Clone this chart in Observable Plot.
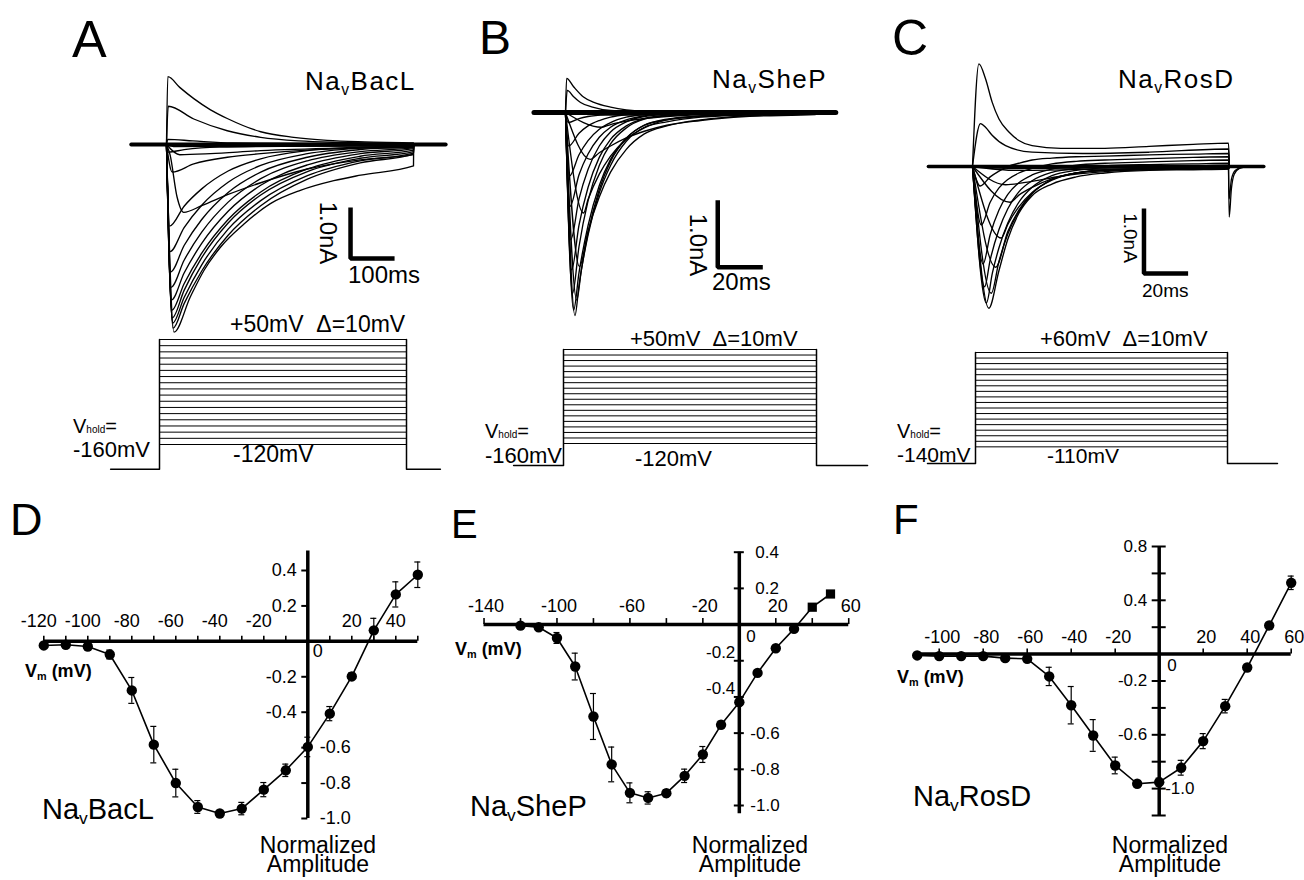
<!DOCTYPE html>
<html><head><meta charset="utf-8">
<script src="https://cdn.jsdelivr.net/npm/d3@7"></script>
<script src="https://cdn.jsdelivr.net/npm/@observablehq/plot@0.6"></script>
<style>
html,body{margin:0;padding:0;background:#fff;}
#fig{position:relative;width:1304px;height:880px;overflow:hidden;background:#fff;font-family:"Liberation Sans",Arial,Helvetica,sans-serif;color:#000;}
.lab{position:absolute;white-space:pre;line-height:1;color:#000;}
.sv{font-size:0.6em;vertical-align:-0.3em;}
</style></head><body><div id="fig"></div>
<script>
// ---------------- DATA ----------------
// I-V curves (normalized peak amplitude vs membrane potential, mV)
const vD = [-120,-110,-100,-90,-80,-70,-60,-50,-40,-30,-20,-10,0,10,20,30,40,50];
const mD = [-0.023,-0.019,-0.029,-0.074,-0.277,-0.583,-0.80,-0.935,-0.972,-0.944,-0.837,-0.728,-0.596,-0.408,-0.198,0.062,0.265,0.376];
const eD = [0.01,0.01,0.012,0.025,0.073,0.103,0.078,0.036,0.012,0.035,0.04,0.035,0.055,0.04,0.02,0.068,0.071,0.072];

const vE = [-120,-110,-100,-90,-80,-70,-60,-50,-40,-30,-20,-10,0,10,20,30,40,50];
const mE = [-0.006,-0.015,-0.074,-0.232,-0.508,-0.773,-0.93,-0.958,-0.932,-0.836,-0.718,-0.554,-0.429,-0.267,-0.131,-0.024,0.096,0.169];
const eE = [0.005,0.01,0.03,0.074,0.127,0.096,0.055,0.034,0.02,0.037,0.044,0.02,0.02,0.01,0.01,0.01,0.01,0.01];

const vF = [-110,-100,-90,-80,-70,-60,-50,-40,-30,-20,-10,0,10,20,30,40,50,60];
const mF = [-0.01,-0.015,-0.015,-0.015,-0.03,-0.035,-0.166,-0.38,-0.605,-0.828,-0.964,-0.952,-0.845,-0.647,-0.387,-0.10,0.213,0.53];
const eF = [0.01,0.01,0.01,0.01,0.01,0.012,0.068,0.139,0.118,0.062,0.015,0.03,0.055,0.056,0.05,0.015,0.015,0.05];

// axis ticks / labels
const xTicksD = [-120,-110,-100,-90,-80,-70,-60,-50,-40,-30,-20,-10,10,20,30,40,50];
const xLabD = [-120,-100,-80,-60,-40,-20,20,40];
const yTicksD = [0.4,0.2,-0.2,-0.4,-0.6,-0.8,-1.0];
const xTicksE = [-140,-120,-100,-80,-60,-40,-20,20,40,60];
const xLabE = [-140,-100,-60,-20,20,60];
const yTicksE = [0.4,0.2,-0.2,-0.4,-0.6,-0.8,-1.0];
const xTicksF = [-100,-80,-60,-40,-20,20,40,60];
const xLabF = [-100,-80,-60,-40,-20,20,40,60];
const yTicksF = [0.8,0.6,0.4,0.2,-0.2,-0.4,-0.6,-0.8,-1.0,-1.2];

// Voltage-step protocols (mV)
const levelsA = [-120,-110,-100,-90,-80,-70,-60,-50,-40,-30,-20,-10,0,10,20,30,40,50];
const levelsB = [-120,-110,-100,-90,-80,-70,-60,-50,-40,-30,-20,-10,0,10,20,30,40,50];
const levelsC = [-110,-100,-90,-80,-70,-60,-50,-40,-30,-20,-10,0,10,20,30,40,50,60];
const holdA = -160, holdB = -160, holdC = -140;
const pulseA = 561, pulseB = 111, pulseC = 116;   // ms

// Current traces: [time ms, current nA] read from the records
const tracesA = [
 [[0,0],[3,1.33],[30,1.12],[62,0.9],[100,0.68],[138,0.51],[214,0.25],[289,0.14],[365,0.08],[450,0.05],[561,0.03]],
 [[0,0],[4,0.75],[62,0.5],[138,0.27],[214,0.14],[300,0.07],[400,0.04],[561,0.02]],
 [[0,0],[3,0.1],[60,0.07],[150,0.03],[561,0.01]],
 [[0,0],[4,-0.15],[40,-0.1],[120,-0.05],[561,-0.01]],
 [[0,0],[7,-1.6],[40,-1.21],[80,-0.87],[140,-0.52],[214,-0.28],[320,-0.12],[440,-0.05],[561,-0.02]],
 [[0,0],[8,-2.1],[40,-1.63],[80,-1.19],[140,-0.74],[214,-0.41],[320,-0.18],[440,-0.07],[561,-0.03]],
 [[0,0],[9,-2.5],[40,-1.98],[80,-1.47],[140,-0.94],[214,-0.54],[320,-0.25],[440,-0.1],[561,-0.04]],
 [[0,0],[10,-2.8],[40,-2.27],[80,-1.72],[140,-1.13],[214,-0.67],[320,-0.32],[440,-0.14],[561,-0.06]],
 [[0,0],[11,-3.05],[40,-2.52],[80,-1.94],[140,-1.31],[214,-0.8],[320,-0.4],[440,-0.18],[561,-0.08]],
 [[0,0],[12,-3.25],[40,-2.73],[80,-2.13],[140,-1.47],[214,-0.93],[320,-0.48],[440,-0.23],[561,-0.11]],
 [[0,0],[13,-3.4],[40,-2.86],[80,-2.22],[140,-1.54],[214,-0.99],[320,-0.53],[440,-0.27],[561,-0.14]],
 [[0,0],[14,-3.5],[40,-3.0],[80,-2.36],[140,-1.66],[214,-1.1],[320,-0.61],[440,-0.32],[561,-0.17]],
 [[0,0],[15,-3.6],[40,-3.12],[80,-2.48],[140,-1.78],[214,-1.2],[320,-0.68],[440,-0.36],[561,-0.19]],
 [[0,0],[17,-3.68],[54,-2.99],[85,-2.47],[123,-2.01],[176,-1.56],[236,-1.16],[304,-0.9],[380,-0.71],[441,-0.6],[561,-0.42]],
 [[0,0],[8,-0.2],[24,-1.03],[39,-1.33],[80,-1.2],[140,-0.98],[214,-0.75],[320,-0.48],[440,-0.3],[561,-0.2]],
 [[0,0],[13,-0.54],[62,-0.38],[138,-0.25],[214,-0.18],[320,-0.11],[440,-0.07],[561,-0.05]],
 [[0,0],[30,-0.2],[100,-0.18],[214,-0.12],[400,-0.07],[561,-0.05]],
 [[0,0],[20,-0.04],[561,-0.02]],
 [[0,0],[20,-0.02],[561,-0.01]]
];

const tracesB = [
 [[0,0],[0.5,0.51],[3.7,0.38],[8,0.23],[12.6,0.15],[20,0.08],[27,0.04],[35,0.02],[50,0.01],[111,0]],
 [[0,0],[0.8,0.33],[3.5,0.24],[6.7,0.15],[12,0.08],[20,0.03],[35,0.01],[111,0]],
 [[0,0],[1.2,-0.15],[6,-0.09],[10,-0.06],[15,-0.04],[20,-0.02],[35,0],[111,0]],
 [[0,0],[1.4,-0.5],[6,-0.31],[10,-0.2],[15,-0.12],[20,-0.07],[27,-0.03],[35,-0.01],[111,0]],
 [[0,0],[1.7,-0.95],[6,-0.63],[10,-0.42],[15,-0.25],[20,-0.15],[27,-0.07],[35,-0.03],[45,-0.01],[111,0]],
 [[0,0],[2.0,-1.4],[6,-0.93],[10,-0.62],[15,-0.37],[20,-0.22],[27,-0.11],[35,-0.05],[45,-0.02],[60,-0.01],[111,0]],
 [[0,0],[2.3,-1.9],[6,-1.29],[10,-0.85],[15,-0.5],[20,-0.29],[27,-0.14],[35,-0.06],[45,-0.03],[60,-0.01],[111,0]],
 [[0,0],[2.7,-2.35],[6,-1.68],[10,-1.12],[15,-0.67],[20,-0.4],[27,-0.2],[35,-0.09],[45,-0.04],[60,-0.02],[80,-0.01],[111,0]],
 [[0,0],[3.1,-2.7],[6,-2.0],[10,-1.32],[15,-0.79],[20,-0.47],[27,-0.23],[35,-0.1],[45,-0.05],[60,-0.03],[80,-0.02],[111,-0.01]],
 [[0,0],[3.6,-2.95],[6,-2.39],[10,-1.69],[15,-1.09],[20,-0.7],[27,-0.38],[35,-0.19],[45,-0.1],[60,-0.05],[80,-0.03],[111,-0.01]],
 [[0,0],[4.2,-3.03],[6,-2.58],[10,-1.8],[15,-1.15],[20,-0.73],[27,-0.39],[35,-0.19],[45,-0.11],[60,-0.06],[80,-0.03],[111,-0.02]],
 [[0,0],[5.0,-2.8],[7,-2.36],[10,-1.83],[15,-1.2],[20,-0.79],[27,-0.43],[35,-0.22],[45,-0.14],[60,-0.07],[80,-0.04],[111,-0.02]],
 [[0,0],[6.2,-2.3],[10,-1.77],[15,-1.26],[20,-0.89],[27,-0.55],[35,-0.32],[45,-0.2],[60,-0.12],[80,-0.06],[111,-0.03]],
 [[0,0],[8,-1.5],[10,-1.3],[15,-0.92],[20,-0.65],[27,-0.4],[35,-0.23],[45,-0.11],[60,-0.05],[80,-0.02],[111,-0.01]],
 [[0,0],[11,-0.7],[15,-0.6],[20,-0.5],[27,-0.38],[35,-0.28],[45,-0.19],[60,-0.11],[80,-0.05],[111,-0.02]],
 [[0,0],[16,-0.22],[20,-0.18],[27,-0.13],[35,-0.09],[45,-0.06],[60,-0.03],[80,-0.01],[111,0]],
 [[0,0],[20,-0.04],[60,-0.02],[111,-0.01]],
 [[0,0],[25,-0.02],[111,0]]
];

const tracesC = [
 [[0,0],[2.9,1.58],[5.9,1.35],[8.9,0.99],[12,0.73],[16.5,0.53],[21,0.4],[27,0.32],[40,0.28],[60,0.28],[80,0.31],[100,0.34],[116,0.36]],
 [[0,0],[3.6,0.66],[6,0.6],[8.9,0.48],[15,0.32],[27,0.22],[50,0.2],[80,0.22],[116,0.27]],
 [[0,0],[3.5,-0.3],[8,-0.16],[12,-0.07],[16,0],[21,0.05],[27,0.1],[36,0.13],[47,0.15],[60,0.16],[80,0.18],[100,0.19],[116,0.2]],
 [[0,0],[4.0,-0.9],[8,-0.55],[12,-0.33],[16,-0.2],[21,-0.1],[27,-0.03],[36,0.04],[47,0.08],[60,0.1],[80,0.12],[100,0.14],[116,0.15]],
 [[0,0],[4.8,-1.5],[8,-1.05],[12,-0.67],[16,-0.43],[21,-0.25],[27,-0.13],[36,-0.04],[47,0.02],[60,0.05],[80,0.07],[100,0.09],[116,0.1]],
 [[0,0],[5.5,-1.85],[8,-1.44],[12,-0.97],[16,-0.65],[21,-0.39],[27,-0.22],[36,-0.09],[47,-0.03],[60,0.01],[80,0.03],[100,0.04],[116,0.05]],
 [[0,0],[6.3,-2.1],[9,-1.64],[12,-1.25],[16,-0.87],[21,-0.55],[27,-0.32],[36,-0.14],[47,-0.06],[60,-0.02],[80,0],[100,0.01],[116,0.02]],
 [[0,0],[7.4,-2.18],[12,-1.6],[16,-1.12],[21,-0.72],[27,-0.45],[36,-0.27],[47,-0.16],[60,-0.1],[80,-0.06],[100,-0.05],[116,-0.04]],
 [[0,0],[8.5,-1.95],[12,-1.46],[16,-1.04],[21,-0.69],[27,-0.42],[36,-0.2],[47,-0.1],[60,-0.05],[80,-0.03],[100,-0.02],[116,-0.02]],
 [[0,0],[10.5,-1.55],[16,-1.0],[21,-0.67],[27,-0.41],[36,-0.2],[47,-0.1],[60,-0.06],[80,-0.04],[100,-0.03],[116,-0.03]],
 [[0,0],[13,-1.1],[16,-0.89],[21,-0.62],[27,-0.4],[36,-0.21],[47,-0.1],[60,-0.06],[80,-0.04],[100,-0.03],[116,-0.03]],
 [[0,0],[17,-0.55],[21,-0.44],[27,-0.32],[36,-0.19],[47,-0.1],[60,-0.06],[80,-0.04],[100,-0.03],[116,-0.03]],
 [[0,0],[15,-0.28],[25,-0.24],[40,-0.15],[60,-0.08],[80,-0.05],[116,-0.03]],
 [[0,0],[20,-0.06],[60,-0.04],[116,-0.02]],
 [[0,0],[20,-0.03],[116,-0.01]]
];
// tail currents after repolarisation in C
const tailsC = [
 [[116,0],[116.3,-0.78],[117.3,-0.35],[118.6,-0.12],[121,-0.03],[125,0]],
 [[116,0],[116.3,-0.5],[117.3,-0.2],[119,-0.06],[123,0]]
];

// scale bars: corner (t, I), length 100 ms / 20 ms and 1.0 nA
const barA = [[418,-1.235],[418,-2.235],[518,-2.235]];
const barB = [[67.6,-1.31],[67.6,-2.31],[87.6,-2.31]];
const barC = [[77.7,-0.646],[77.7,-1.646],[97.7,-1.646]];

// ---------------- DRAWING ----------------
const FONT = '"Liberation Sans", Arial, Helvetica, sans-serif';
const fig = document.getElementById("fig");

function panel(o) {
  const svg = Plot.plot({
    width: o.w, height: o.h, margin: 0,
    x: {type: "linear", domain: o.xd, range: [o.xp[0] - o.left, o.xp[1] - o.left], axis: null},
    y: {type: "linear", domain: o.yd, range: [o.yp[0] - o.top, o.yp[1] - o.top], axis: null},
    style: {background: "transparent", overflow: "visible", fontFamily: FONT, color: "#000"},
    marks: o.marks
  });
  svg.style.position = "absolute";
  svg.style.left = o.left + "px";
  svg.style.top = o.top + "px";
  svg.style.maxWidth = "none";
  fig.appendChild(svg);
}

function traceMarks(traces, pulse, base, baseW, bar, extra = []) {
  const rows = traces.flatMap((pts, k) => [...pts, [pulse + 0.4, 0]].map(([t, i]) => ({k, t, i})));
  const tails = extra.flatMap((pts, k) => pts.map(([t, i]) => ({k, t, i})));
  return [
    Plot.line(base, {stroke: "#000", strokeWidth: baseW}),
    Plot.line(rows, {x: "t", y: "i", z: "k", curve: "monotone-x", stroke: "#000", strokeWidth: 1.35}),
    Plot.line(tails, {x: "t", y: "i", z: "k", curve: "monotone-x", stroke: "#000", strokeWidth: 1.3}),
    Plot.line(bar, {stroke: "#000", strokeWidth: 4.5, strokeLinejoin: "miter", strokeLinecap: "butt"})
  ];
}

function protoMarks(levels, pulse, hold, h0, h1) {
  const top = levels[levels.length - 1];
  return [
    Plot.ruleY(levels, {x1: 0, x2: pulse, stroke: "#000", strokeWidth: 1}),
    Plot.line([[h0, hold], [0, hold], [0, top]], {stroke: "#000", strokeWidth: 1.5}),
    Plot.line([[pulse, top], [pulse, hold], [h1, hold]], {stroke: "#000", strokeWidth: 1.5})
  ];
}

function ivMarks(p) {
  const kx = (p.xp[1] - p.xp[0]) / (p.xd[1] - p.xd[0]);
  const ky = (p.yp[1] - p.yp[0]) / (p.yd[0] - p.yd[1]);
  const rows = p.v.map((v, i) => ({v, m: p.m[i], e: p.e[i]}));
  const cap = 3 / kx;
  const fmt = d => d.toFixed(1);
  const marks = [
    Plot.ruleY([0], {x1: p.xAxis[0], x2: p.xAxis[1], stroke: "#000", strokeWidth: 3.5}),
    Plot.ruleX([0], {y1: p.yAxis[0], y2: p.yAxis[1], stroke: "#000", strokeWidth: 3.5}),
    Plot.ruleX(p.xTicks, {y1: 0, y2: p.xTickUp / ky, stroke: "#000", strokeWidth: 1.6}),
    Plot.ruleY(p.yTicks, {x1: -p.yTickL / kx, x2: p.yTickR / kx, stroke: "#000", strokeWidth: 2}),
    Plot.ruleX(rows, {x: "v", y1: d => d.m - d.e, y2: d => d.m + d.e, stroke: "#000", strokeWidth: 1.2}),
    Plot.ruleY(rows, {y: d => d.m + d.e, x1: d => d.v - cap, x2: d => d.v + cap, stroke: "#000", strokeWidth: 1.2}),
    Plot.ruleY(rows, {y: d => d.m - d.e, x1: d => d.v - cap, x2: d => d.v + cap, stroke: "#000", strokeWidth: 1.2}),
    Plot.line(rows, {x: "v", y: "m", stroke: "#000", strokeWidth: 1.6}),
    Plot.dot(rows.filter(d => !(p.sq != null && d.v >= p.sq)), {x: "v", y: "m", r: 5.2, fill: "#000", stroke: "none"})
  ];
  if (p.sq != null) marks.push(Plot.dot(rows.filter(d => d.v >= p.sq), {x: "v", y: "m", r: 5.2, symbol: "square", fill: "#000", stroke: "none"}));
  for (const g of p.xLab) marks.push(Plot.text(g.vals, {x: d => d, y: 0, text: d => String(d), dy: p.xLabDy, dx: g.dx, fontSize: p.fsx, textAnchor: "middle", fill: "#000"}));
  for (const g of p.yLab) marks.push(Plot.text(g.vals, {x: 0, y: d => d, text: fmt, textAnchor: g.anchor, dx: g.dx, dy: g.dy || 0, fontSize: p.fsy, fill: "#000"}));
  marks.push(Plot.text(["0"], {x: 0, y: 0, text: d => d, textAnchor: "start", dx: p.zero[0], dy: p.zero[1], fontSize: p.fsy, fill: "#000"}));
  return marks;
}

// --- top: current traces ---
panel({left: 100, top: 40, w: 380, h: 310, xd: [0, pulseA], xp: [166, 413], yd: [0, -1], yp: [144, 195],
  marks: traceMarks(tracesA, pulseA, [[-80, 0], [634, 0]], 4, barA)});
panel({left: 500, top: 40, w: 380, h: 300, xd: [0, pulseB], xp: [565, 815], yd: [0, -1], yp: [112, 179],
  marks: traceMarks(tracesB, pulseB, [[-14, 0], [120, 0]], 5, barB)});
panel({left: 900, top: 30, w: 404, h: 300, xd: [0, pulseC], xp: [972, 1228], yd: [0, -1], yp: [166, 231],
  marks: traceMarks(tracesC, pulseC, [[-20, 0], [132, 0]], 3.5, barC, tailsC)});

// --- protocols ---
panel({left: 100, top: 320, w: 360, h: 170, xd: [0, pulseA], xp: [159, 406], yd: [-120, 50], yp: [444, 339],
  marks: protoMarks(levelsA, pulseA, holdA, -111, 638)});
panel({left: 500, top: 330, w: 380, h: 160, xd: [0, pulseB], xp: [563, 816], yd: [-120, 50], yp: [443, 349],
  marks: protoMarks(levelsB, pulseB, holdB, -21.9, 133.4)});
panel({left: 900, top: 330, w: 404, h: 160, xd: [0, pulseC], xp: [975, 1227], yd: [-140, 60], yp: [463, 352],
  marks: protoMarks(levelsC, pulseC, holdC, -22.1, 139)});

// --- I-V curves ---
const pD = {left: 0, top: 520, w: 440, h: 340, xd: [-120, 50], xp: [43.3, 417.3], yd: [0.4, -1.0], yp: [570, 818]};
panel({...pD, marks: ivMarks({...pD, v: vD, m: mD, e: eD, xAxis: [-120, 50], yAxis: [-1.0, 0.51],
  xTicks: xTicksD, xTickUp: 5, yTicks: yTicksD, yTickL: 6, yTickR: 0,
  xLab: [{vals: xLabD.filter(d => d < 0), dx: -5}, {vals: xLabD.filter(d => d > 0), dx: 0}], xLabDy: -20, fsx: 18,
  yLab: [{vals: [0.4, 0.2, -0.2, -0.4], anchor: "end", dx: -11}, {vals: [-0.6, -0.8, -1.0], anchor: "start", dx: 12}], fsy: 18,
  zero: [5, 10]})});

const pE = {left: 440, top: 520, w: 440, h: 320, xd: [-120, 50], xp: [520, 830], yd: [0.4, -1.0], yp: [551.7, 805]};
panel({...pE, marks: ivMarks({...pE, v: vE, m: mE, e: eE, xAxis: [-140, 60], yAxis: [-1.045, 0.4],
  xTicks: xTicksE, xTickUp: 6, yTicks: yTicksE, yTickL: 5, yTickR: 5, sq: 40,
  xLab: [{vals: xLabE, dx: 2}], xLabDy: -18, fsx: 18,
  yLab: [{vals: [0.4, 0.2], anchor: "start", dx: 16}, {vals: [-0.2, -0.4], anchor: "end", dx: -4, dy: -8}, {vals: [-0.6, -0.8, -1.0], anchor: "start", dx: 11}], fsy: 17,
  zero: [7, 12]})});

const pF = {left: 880, top: 520, w: 424, h: 320, xd: [-110, 60], xp: [916.7, 1290.7], yd: [0.8, -1.2], yp: [546, 815]};
panel({...pF, marks: ivMarks({...pF, v: vF, m: mF, e: eF, xAxis: [-110.8, 60], yAxis: [-1.2, 0.8],
  xTicks: xTicksF, xTickUp: 5, yTicks: yTicksF, yTickL: 7, yTickR: 7,
  xLab: [{vals: xLabF, dx: 3}], xLabDy: -17, fsx: 18,
  yLab: [{vals: [0.8, 0.4, -0.2, -0.6], anchor: "end", dx: -12}, {vals: [-1.0], anchor: "start", dx: 6}], fsy: 17,
  zero: [8, 11]})});

// ---------------- TEXT LABELS ----------------
function lab(html, x, base, size, opt = {}) {
  const d = document.createElement("div");
  d.className = "lab";
  d.innerHTML = html;
  d.style.fontSize = size + "px";
  d.style.left = x + "px";
  d.style.top = (base - 0.847 * size) + "px";
  if (opt.center) { d.style.transform = "translateX(-50%)"; d.style.textAlign = "center"; }
  if (opt.ls) d.style.letterSpacing = opt.ls + "px";
  if (opt.bold) d.style.fontWeight = "bold";
  if (opt.lh) d.style.lineHeight = opt.lh + "px";
  fig.appendChild(d);
}
function rot(text, cx, cy, size) {
  const d = document.createElement("div");
  d.className = "lab";
  d.textContent = text;
  d.style.fontSize = size + "px";
  d.style.left = cx + "px";
  d.style.top = cy + "px";
  d.style.transform = "translate(-50%,-50%) rotate(90deg)";
  fig.appendChild(d);
}
const nav = 'Na<span class="sv">v</span>';
const vhold = 'V<span style="font-size:0.5em">hold</span>=';
const vm = 'V<span style="font-size:0.6em;vertical-align:-0.25em">m</span> (mV)';

lab("A", 72, 57, 52); lab("B", 479, 55, 48); lab("C", 892, 55, 50);
lab("D", 10, 535, 45); lab("E", 451, 538, 40); lab("F", 893, 535, 42);

lab(nav + "BacL", 305, 90, 26, {ls: 1.5});
lab(nav + "SheP", 712, 88, 26, {ls: 1.5});
lab(nav + "RosD", 1118, 88, 26, {ls: 1.5});
lab(nav + "BacL", 42, 820, 29);
lab(nav + "SheP", 470, 817, 29);
lab(nav + "RosD", 913, 807, 29);

rot("1.0nA", 328, 233, 24); lab("100ms", 348, 283, 24);
rot("1.0nA", 698, 245, 24); lab("20ms", 712, 290, 24);
rot("1.0nA", 1130, 238, 19); lab("20ms", 1142, 297, 19);

lab("+50mV  \u0394=10mV", 230, 332, 23);
lab(vhold, 73, 433, 20); lab("-160mV", 73, 458, 22); lab("-120mV", 233, 462, 23);
lab("+50mV  \u0394=10mV", 630, 347, 22);
lab(vhold, 485, 438, 20); lab("-160mV", 485, 464, 22); lab("-120mV", 635, 467, 22);
lab("+60mV  \u0394=10mV", 1040, 347, 22);
lab(vhold, 897, 438, 20); lab("-140mV", 897, 462, 21); lab("-110mV", 1047, 463, 21);

lab(vm, 25, 677, 18, {bold: true});
lab(vm, 455, 655, 18, {bold: true});
lab(vm, 897, 683, 18, {bold: true});

for (const cx of [318, 750, 1170]) {
  lab("Normalized\nAmplitude", cx, 855, 23, {center: true, lh: 19.5});
}
</script></body></html>
